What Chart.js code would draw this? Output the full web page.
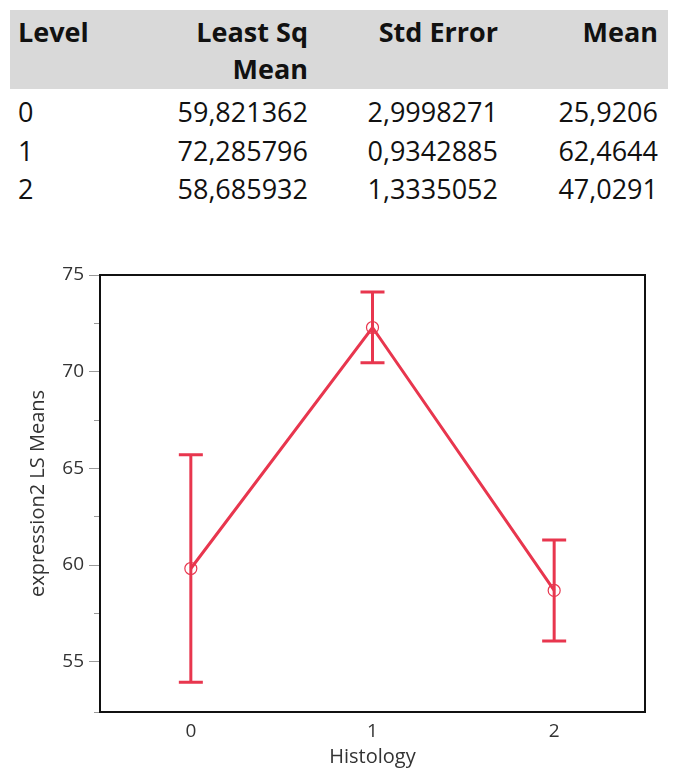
<!DOCTYPE html>
<html>
<head>
<meta charset="utf-8">
<script src="https://cdn.jsdelivr.net/npm/chart.js@4"></script>
<style>
  body { margin: 0; background: #fff; font-family: "Open Sans", sans-serif; }
  #tbl { position: absolute; left: 10px; top: 10px; width: 658px; border-collapse: collapse; font-size: 27px; color: #111; }
  #tbl th { background: #d9d9d9; font-weight: 700; line-height: 37px; vertical-align: top; padding: 3px 0 2px 0; }
  #tbl td { line-height: 38.5px; padding: 0; }
  #tbl tbody tr:first-child td { padding-top: 4px; }
  .l { text-align: left; padding-left: 8px !important; }
  .r { text-align: right; }
  #wrap { position: absolute; left: 0; top: 230px; width: 680px; height: 548px; }
</style>
</head>
<body>
<table id="tbl">
  <colgroup><col style="width:150px"><col style="width:148px"><col style="width:190px"><col style="width:170px"></colgroup>
  <thead><tr><th class="l">Level</th><th class="r">Least Sq<br>Mean</th><th class="r">Std Error</th><th class="r">Mean</th></tr></thead>
  <tbody id="rows"></tbody>
</table>
<div id="wrap"><canvas id="lsChart"></canvas></div>
<script>
const levels = ["0", "1", "2"];
const lsMean = [59.821362, 72.285796, 58.685932];
const stdError = [2.9998271, 0.9342885, 1.3335052];
const rawMean = [25.9206, 62.4644, 47.0291];
const lsMeanText = ["59,821362", "72,285796", "58,685932"];
const stdErrorText = ["2,9998271", "0,9342885", "1,3335052"];
const rawMeanText = ["25,9206", "62,4644", "47,0291"];
// error bar ends
const barLower = [53.94, 70.46, 56.07];
const barUpper = [65.70, 74.12, 61.30];
const yTicks = [55, 60, 65, 70, 75];

const red = "#e8364e";

// table rows
const tbody = document.getElementById("rows");
levels.forEach((lv, i) => {
  const tr = document.createElement("tr");
  tr.innerHTML = '<td class="l">' + lv + '</td><td class="r">' + lsMeanText[i] +
    '</td><td class="r">' + stdErrorText[i] + '</td><td class="r">' + rawMeanText[i] + '</td>';
  tbody.appendChild(tr);
});
document.querySelectorAll("#tbl th")[3].style.paddingRight = "10px";
document.querySelectorAll("#tbl tr").forEach(tr => {
  if (tr.children[3]) tr.children[3].style.paddingRight = "10px";
});

const isMajor = v => Math.abs(v / 5 - Math.round(v / 5)) < 1e-6;

// error bars + frame
const errorBars = {
  id: "errorBars",
  afterDatasetsDraw(chart) {
    const { ctx, scales: { x, y } } = chart;
    ctx.save();
    ctx.strokeStyle = red;
    ctx.lineWidth = 3;
    levels.forEach((lv, i) => {
      const px = x.getPixelForValue(i);
      const top = y.getPixelForValue(barUpper[i]);
      const bot = y.getPixelForValue(barLower[i]);
      ctx.beginPath();
      ctx.moveTo(px, top); ctx.lineTo(px, bot);
      ctx.moveTo(px - 12, top); ctx.lineTo(px + 12, top);
      ctx.moveTo(px - 12, bot); ctx.lineTo(px + 12, bot);
      ctx.stroke();
    });
    ctx.restore();
  },
  afterDraw(chart) {
    const a = chart.chartArea;
    const ctx = chart.ctx;
    ctx.save();
    ctx.strokeStyle = "#111";
    ctx.lineWidth = 2;
    ctx.strokeRect(a.left, a.top, a.right - a.left, a.bottom - a.top);
    ctx.restore();
  }
};

new Chart(document.getElementById("lsChart"), {
  type: "line",
  data: {
    labels: levels,
    datasets: [{
      data: lsMean,
      borderColor: red,
      borderWidth: 3,
      pointStyle: "circle",
      pointRadius: 6,
      pointBorderWidth: 1.2,
      pointBorderColor: red,
      pointBackgroundColor: "rgba(0,0,0,0)",
      tension: 0
    }]
  },
  options: {
    responsive: true,
    maintainAspectRatio: false,
    animation: false,
    events: [],
    layout: { padding: { top: 45, right: 35, left: 0, bottom: 0 } },
    plugins: { legend: { display: false }, tooltip: { enabled: false } },
    scales: {
      x: {
        type: "category",
        offset: true,
        grid: { display: false },
        border: { display: false },
        ticks: { padding: 0, color: "#333", font: { family: "Open Sans", size: 19 } },
        title: { display: true, text: "Histology", color: "#333", font: { family: "Open Sans", size: 20 }, padding: { top: 0, bottom: 9 } },
        afterFit: s => { s.height = 66; }
      },
      y: {
        min: 52.4,
        max: 75,
        border: { display: false },
        grid: {
          drawOnChartArea: false,
          tickLength: 11,
          tickColor: "#999",
          tickWidth: 1,
          tickBorderDash: c => (c.tick && !isMajor(c.tick.value)) ? [6, 5] : [],
          tickBorderDashOffset: c => (c.tick && !isMajor(c.tick.value)) ? 6 : 0
        },
        ticks: {
          stepSize: 2.5,
          padding: 5,
          color: "#333",
          font: { family: "Open Sans", size: 19 },
          callback: v => yTicks.includes(Math.round(v * 1000) / 1000) ? String(Math.round(v)) : ""
        },
        title: { display: true, text: "expression2 LS Means", color: "#333", font: { family: "Open Sans", size: 20 }, padding: { top: 26, bottom: 0 } },
        afterFit: s => { s.width = 100; }
      }
    }
  },
  plugins: [errorBars]
});
</script>
</body>
</html>
